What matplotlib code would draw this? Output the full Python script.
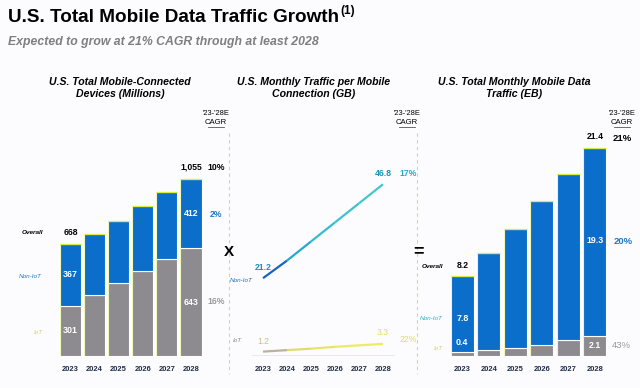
import matplotlib
matplotlib.use("Agg")
import matplotlib.pyplot as plt
from matplotlib.lines import Line2D
from matplotlib.collections import LineCollection
from matplotlib import font_manager
import numpy as np

plt.rcParams['font.family'] = ['Liberation Sans', 'DejaVu Sans']
_names = {f.name for f in font_manager.fontManager.ttflist}
NARROW = 'Liberation Sans Narrow' if 'Liberation Sans Narrow' in _names else None

# ---------------- data ----------------
years = ['2023', '2024', '2025', '2026', '2027', '2028']

dev_total = [668, 727, 805, 894, 978, 1055]
dev_iot = [301, 364, 435, 509, 580, 643]
dev_noniot = [t - i for t, i in zip(dev_total, dev_iot)]

gb_noniot = [21.2, 26.0, 31.2, 36.4, 41.6, 46.8]
gb_iot = [1.2, 1.6, 2.0, 2.5, 2.9, 3.3]

eb_total = [8.2, 10.6, 13.1, 15.9, 18.7, 21.4]
eb_iot = [0.4, 0.6, 0.85, 1.15, 1.65, 2.1]
eb_noniot = [round(t - i, 2) for t, i in zip(eb_total, eb_iot)]

dev_labels = {'total': ['668', '1,055'], 'noniot': ['367', '412'], 'iot': ['301', '643']}
eb_labels = {'total': ['8.2', '21.4'], 'noniot': ['7.8', '19.3'], 'iot': ['0.4', '2.1']}
gb_labels = {'noniot': ['21.2', '46.8'], 'iot': ['1.2', '3.3']}

cagr_dev = ['10%', '2%', '16%']
cagr_gb = ['17%', '22%']
cagr_eb = ['21%', '20%', '43%']

# ---------------- style ----------------
W, H = 640, 388
BLUE = '#0b6ecb'
GRAY = '#8d8a90'
TOPC = '#d6ec48'
NAVY = '#1f2b4a'
IOTC = '#d8d070'
BG = '#fcfcfe'

fig = plt.figure(figsize=(W / 100, H / 100), dpi=100, facecolor=BG)


def px_axes(left, right, bottom, top):
    return fig.add_axes([left / W, 1 - bottom / H, (right - left) / W, (bottom - top) / H])


def ftext(x, y, s, **kw):
    kw.setdefault('ha', 'center')
    kw.setdefault('va', 'center')
    return fig.text(x / W, 1 - y / H, s, **kw)


def fline(xs, ys, **kw):
    fig.add_artist(Line2D([x / W for x in xs], [1 - y / H for y in ys], **kw))


# titles
if NARROW:
    t1 = ftext(8, 18, 'U.S. Total Mobile Data Traffic Growth', ha='left', fontsize=16.2,
               fontweight='bold', color='black', family=[NARROW, 'Liberation Sans'])
    ftext(8, 42, 'Expected to grow at 21% CAGR through at least 2028', ha='left',
          fontsize=10.4, fontweight='bold', style='italic', color='#7f7f7f',
          family=[NARROW, 'Liberation Sans'])
else:
    t1 = ftext(8, 18, 'U.S. Total Mobile Data Traffic Growth', ha='left', fontsize=13.6,
               fontweight='bold', color='black')
    ftext(8, 42, 'Expected to grow at 21% CAGR through at least 2028', ha='left',
          fontsize=8.8, fontweight='bold', style='italic', color='#7f7f7f')
fig.canvas.draw()
bb = t1.get_window_extent()
ftext(bb.x1 + 1, 11, '(1)', ha='left', fontsize=8.5, fontweight='bold', color='black')

# panel titles
for cx, t in [(120, 'U.S. Total Mobile-Connected\nDevices (Millions)'),
              (314, 'U.S. Monthly Traffic per Mobile\nConnection (GB)'),
              (514, 'U.S. Total Monthly Mobile Data\nTraffic (EB)')]:
    ftext(cx, 88, t, fontsize=7.6, fontweight='bold', style='italic', color='black',
          linespacing=1.15)

# CAGR headers
for cx in [216, 407, 622]:
    ftext(cx, 113, "'23-'28E", fontsize=5.4, color='black')
    ftext(cx, 122, 'CAGR', fontsize=5.6, color='black')
    fline([cx - 8, cx + 8], [126.5, 126.5], color='#555555', lw=0.6)

# dashed separators
for xx in [229, 417]:
    fline([xx, xx], [133, 374], color='#d8d68a', lw=0.8, ls=(0, (3, 3)))

ftext(229, 252, 'X', fontsize=11, fontweight='bold', color='black')
ftext(419, 252, '=', fontsize=13, fontweight='bold', color='black')

x = np.arange(len(years))


def bar_panel(ax, total, iot, noniot, width):
    ax.bar(x, iot, width=width, color=GRAY, edgecolor='white', linewidth=0.8)
    ax.bar(x, noniot, bottom=iot, width=width, color=BLUE, edgecolor='white', linewidth=0.8)
    for xi, t in zip(x, total):
        ax.plot([xi - width / 2, xi + width / 2], [t, t], color=TOPC, lw=0.9,
                solid_capstyle='butt', zorder=3)
        ax.plot([xi - width / 2, xi - width / 2], [0, t], color=TOPC, lw=0.6,
                alpha=0.45, solid_capstyle='butt', zorder=3)


def clean(ax):
    ax.set_xlim(-0.6, 5.6)
    ax.set_facecolor('none')
    for s in ax.spines.values():
        s.set_visible(False)
    ax.set_yticks([])
    ax.set_xticks(x)
    ax.set_xticklabels(years, fontsize=5.4, fontweight='bold', color=NAVY)
    ax.tick_params(axis='x', length=0, pad=7)


# ---------------- left panel ----------------
s1 = 0.1677
axL = px_axes(56.0, 205.4, 356, 100)
axL.set_ylim(0, 256 / s1)
bar_panel(axL, dev_total, dev_iot, dev_noniot, 0.88)
clean(axL)
for i, j in [(0, 0), (5, 1)]:
    axL.annotate(dev_labels['total'][j], (x[i], dev_total[i]), xytext=(0, 8.5),
                 textcoords='offset points', ha='center', va='center', fontsize=6.2,
                 fontweight='bold', color='black')
    axL.text(x[i], dev_iot[i] + dev_noniot[i] / 2, dev_labels['noniot'][j], ha='center',
             va='center', fontsize=6.4, fontweight='bold', color='white')
    axL.text(x[i], dev_iot[i] / 2, dev_labels['iot'][j], ha='center', va='center',
             fontsize=6.4, fontweight='bold', color='white')
ftext(32, 232, 'Overall', fontsize=4.6, fontweight='bold', style='italic', color='black')
ftext(30, 277, 'Non-IoT', fontsize=4.6, style='italic', color='#1f78c8')
ftext(38, 332, 'IoT', fontsize=4.6, style='italic', color=IOTC)
ftext(216, 168, cagr_dev[0], fontsize=6.2, fontweight='bold', color='black')
ftext(216, 214, cagr_dev[1], fontsize=6.2, fontweight='bold', color='#1f78c8')
ftext(216, 302, cagr_dev[2], fontsize=6.2, fontweight='bold', color='#9a9a9a')

# ---------------- middle panel ----------------
s2 = 3.67
axM = px_axes(248.6, 397.4, 356, 100)
axM.set_ylim(0, 256 / s2)
clean(axM)
axM.axhline(0, xmin=0.02, xmax=0.98, color='#a5a5a0', lw=1.0)
ptsN = np.column_stack([x, gb_noniot])
segN = np.stack([ptsN[:-1], ptsN[1:]], axis=1)
axM.add_collection(LineCollection(segN, colors=['#1565c0', '#28a8d0', '#34bcd0', '#3cc4cc',
                                                 '#42c8c8'], linewidths=1.6))
ptsI = np.column_stack([x, gb_iot])
segI = np.stack([ptsI[:-1], ptsI[1:]], axis=1)
axM.add_collection(LineCollection(segI, colors=['#b8b49a', '#e0dc70', '#e8e468', '#ecea66',
                                                 '#eeec66'], linewidths=1.6))
axM.annotate(gb_labels['noniot'][0], (x[0], gb_noniot[0]), xytext=(0, 8),
             textcoords='offset points', ha='center', va='center', fontsize=6.2,
             fontweight='bold', color='#1e8fb8')
axM.annotate(gb_labels['noniot'][1], (x[5], gb_noniot[5]), xytext=(0, 8),
             textcoords='offset points', ha='center', va='center', fontsize=6.2,
             fontweight='bold', color='#1e8fb8')
axM.annotate(gb_labels['iot'][0], (x[0], gb_iot[0]), xytext=(0, 7.5),
             textcoords='offset points', ha='center', va='center', fontsize=6.2,
             color='#c8c090')
axM.annotate(gb_labels['iot'][1], (x[5], gb_iot[5]), xytext=(0, 8),
             textcoords='offset points', ha='center', va='center', fontsize=6.2,
             color='#e2dc60')
ftext(230, 280, 'Non-IoT', ha='left', fontsize=4.6, style='italic', color='#1f6fc0')
ftext(233, 341, 'IoT', ha='left', fontsize=4.6, style='italic', color='#8a8a8a')
ftext(408, 173, cagr_gb[0], fontsize=6.2, fontweight='bold', color='#2aa7c8')
ftext(408, 339, cagr_gb[1], fontsize=6.2, color='#e2dc60')

# ---------------- right panel ----------------
s3 = 9.72
axR = px_axes(446.4, 610.7, 356, 100)
axR.set_ylim(0, 256 / s3)
bar_panel(axR, eb_total, eb_iot, eb_noniot, 0.88)
clean(axR)
for i, j in [(0, 0), (5, 1)]:
    axR.annotate(eb_labels['total'][j], (x[i], eb_total[i]), xytext=(0, 8),
                 textcoords='offset points', ha='center', va='center', fontsize=6.2,
                 fontweight='bold', color='black')
axR.text(x[0], 3.9, eb_labels['noniot'][0], ha='center', va='center', fontsize=6.4,
         fontweight='bold', color='white')
axR.text(x[5], 11.9, eb_labels['noniot'][1], ha='center', va='center', fontsize=6.4,
         fontweight='bold', color='white')
axR.annotate(eb_labels['iot'][0], (x[0], eb_iot[0]), xytext=(0, 7),
             textcoords='offset points', ha='center', va='center', fontsize=6.4,
             fontweight='bold', color='white')
axR.text(x[5], eb_iot[5] / 2, eb_labels['iot'][1], ha='center', va='center', fontsize=6.4,
         fontweight='bold', color='white')
ftext(432, 267, 'Overall', fontsize=4.6, fontweight='bold', style='italic', color='black')
ftext(431, 319, 'Non-IoT', fontsize=4.6, style='italic', color='#28b0c8')
ftext(438, 348, 'IoT', fontsize=4.6, style='italic', color=IOTC)
ftext(622, 138, cagr_eb[0], fontsize=6.8, fontweight='bold', color='black')
ftext(623, 242, cagr_eb[1], fontsize=6.8, fontweight='bold', color='#1f78c8')
ftext(621, 346, cagr_eb[2], fontsize=6.8, color='#9a9a9a')

fig.savefig('out.png', dpi=100, facecolor=BG)
